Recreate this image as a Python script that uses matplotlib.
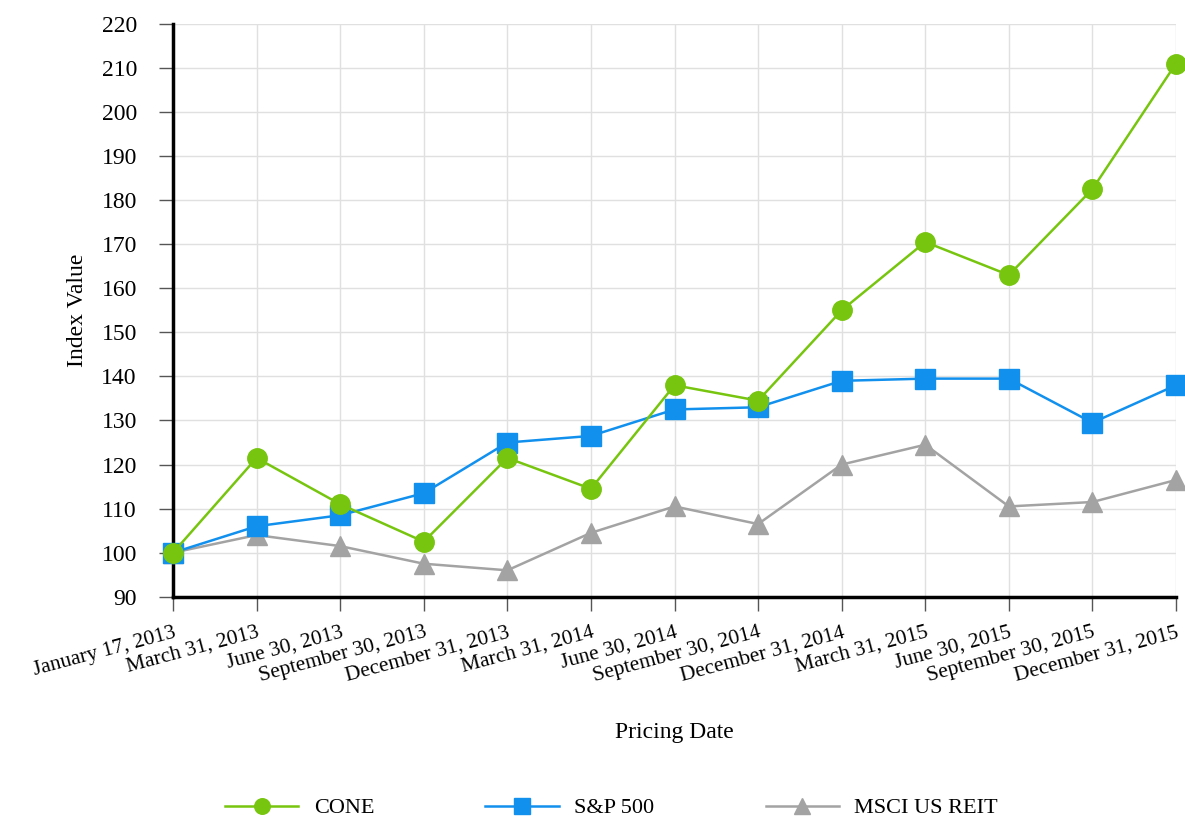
import matplotlib.pyplot as plt
import numpy as np

plt.rcParams['font.family'] = ['Liberation Serif', 'DejaVu Serif']

dates = ["January 17, 2013", "March 31, 2013", "June 30, 2013", "September 30, 2013",
         "December 31, 2013", "March 31, 2014", "June 30, 2014", "September 30, 2014",
         "December 31, 2014", "March 31, 2015", "June 30, 2015", "September 30, 2015",
         "December 31, 2015"]
cone = [100, 121.5, 111, 102.5, 121.5, 114.5, 138, 134.5, 155, 170.5, 163, 182.5, 211]
sp500 = [100, 106, 108.5, 113.5, 125, 126.5, 132.5, 133, 139, 139.5, 139.5, 129.5, 138]
msci = [100, 104, 101.5, 97.5, 96, 104.5, 110.5, 106.5, 120, 124.5, 110.5, 111.5, 116.5]

green = '#77c50f'
blue = '#1290ee'
gray = '#a3a3a3'

fig = plt.figure(figsize=(11.85, 8.22), dpi=100)
ax = fig.add_axes([0.146, 0.274, 0.8464, 0.697])

x = np.arange(len(dates))
ax.plot(x, msci, color=gray, lw=1.8, marker='^', ms=14, label='MSCI US REIT', clip_on=False, zorder=3)
ax.plot(x, sp500, color=blue, lw=1.8, marker='s', ms=14, label='S&P 500', clip_on=False, zorder=4)
ax.plot(x, cone, color=green, lw=1.8, marker='o', ms=14, label='CONE', clip_on=False, zorder=5)

ax.set_xlim(0, len(dates) - 1)
ax.set_ylim(90, 220)
ax.set_yticks(range(90, 221, 10))
ax.set_xticks(x)
ax.set_xticklabels(dates, rotation=15, ha='right', va='top', rotation_mode='anchor')

ax.grid(True, color='#e0e0e0', lw=1)
ax.set_axisbelow(True)
for s in ['top', 'right']:
    ax.spines[s].set_visible(False)
ax.spines['left'].set_linewidth(2.5)
ax.spines['bottom'].set_linewidth(2.5)
ax.tick_params(axis='both', length=10, width=1, color='#555555')
ax.tick_params(axis='y', labelsize=17, pad=16)
ax.tick_params(axis='x', labelsize=15.5, pad=9)

ax.set_ylabel("Index Value", fontsize=17, labelpad=10)
ax.set_xlabel("Pricing Date", fontsize=17, labelpad=26)

h, l = ax.get_legend_handles_labels()
order = [2, 1, 0]
fig.legend([h[i] for i in order], [l[i] for i in order], loc='center', bbox_to_anchor=(0.516, 0.017),
           ncol=3, frameon=False, fontsize=16, handlelength=3.3, handletextpad=0.7,
           columnspacing=5, markerscale=0.8)

fig.savefig('out.png', dpi=100)
